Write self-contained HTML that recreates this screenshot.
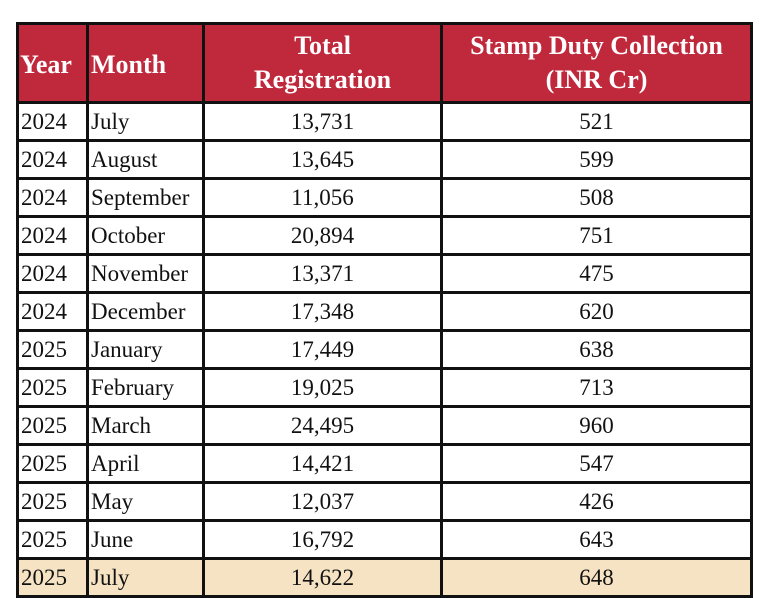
<!DOCTYPE html>
<html><head><style>
body{margin:0;width:760px;height:598px;background:#fff;position:relative;overflow:hidden;}
table{border-collapse:collapse;position:absolute;left:16px;top:22px;table-layout:fixed;font-family:"Liberation Serif","Times New Roman",serif;}
td,th{font-family:"Liberation Serif","Times New Roman",serif;border:3px solid #111;padding:0;font-size:23px;color:#111;height:35px;line-height:35px;white-space:nowrap;overflow:hidden;}
th{background:#c0283c;color:#fff;font-size:26px;font-weight:bold;height:76px;line-height:34px;}
td.l{text-align:left;padding-left:2px;}
td.c{text-align:center;}
tr.h td{background:#f5e3c3;}
</style></head><body>
<table>
<colgroup><col style="width:70px"><col style="width:116px"><col style="width:238px"><col style="width:310px"></colgroup>
<tr><th style="text-align:left;padding-left:1px;padding-top:4px;height:72px">Year</th><th style="text-align:left;padding-left:2px;padding-top:4px;height:72px">Month</th><th>Total<br>Registration</th><th>Stamp Duty Collection<br>(INR Cr)</th></tr>
<tr><td class="l">2024</td><td class="l">July</td><td class="c">13,731</td><td class="c">521</td></tr>
<tr><td class="l">2024</td><td class="l">August</td><td class="c">13,645</td><td class="c">599</td></tr>
<tr><td class="l">2024</td><td class="l">September</td><td class="c">11,056</td><td class="c">508</td></tr>
<tr><td class="l">2024</td><td class="l">October</td><td class="c">20,894</td><td class="c">751</td></tr>
<tr><td class="l">2024</td><td class="l">November</td><td class="c">13,371</td><td class="c">475</td></tr>
<tr><td class="l">2024</td><td class="l">December</td><td class="c">17,348</td><td class="c">620</td></tr>
<tr><td class="l">2025</td><td class="l">January</td><td class="c">17,449</td><td class="c">638</td></tr>
<tr><td class="l">2025</td><td class="l">February</td><td class="c">19,025</td><td class="c">713</td></tr>
<tr><td class="l">2025</td><td class="l">March</td><td class="c">24,495</td><td class="c">960</td></tr>
<tr><td class="l">2025</td><td class="l">April</td><td class="c">14,421</td><td class="c">547</td></tr>
<tr><td class="l">2025</td><td class="l">May</td><td class="c">12,037</td><td class="c">426</td></tr>
<tr><td class="l">2025</td><td class="l">June</td><td class="c">16,792</td><td class="c">643</td></tr>
<tr class="h"><td class="l">2025</td><td class="l">July</td><td class="c">14,622</td><td class="c">648</td></tr>
</table>
</body></html>
